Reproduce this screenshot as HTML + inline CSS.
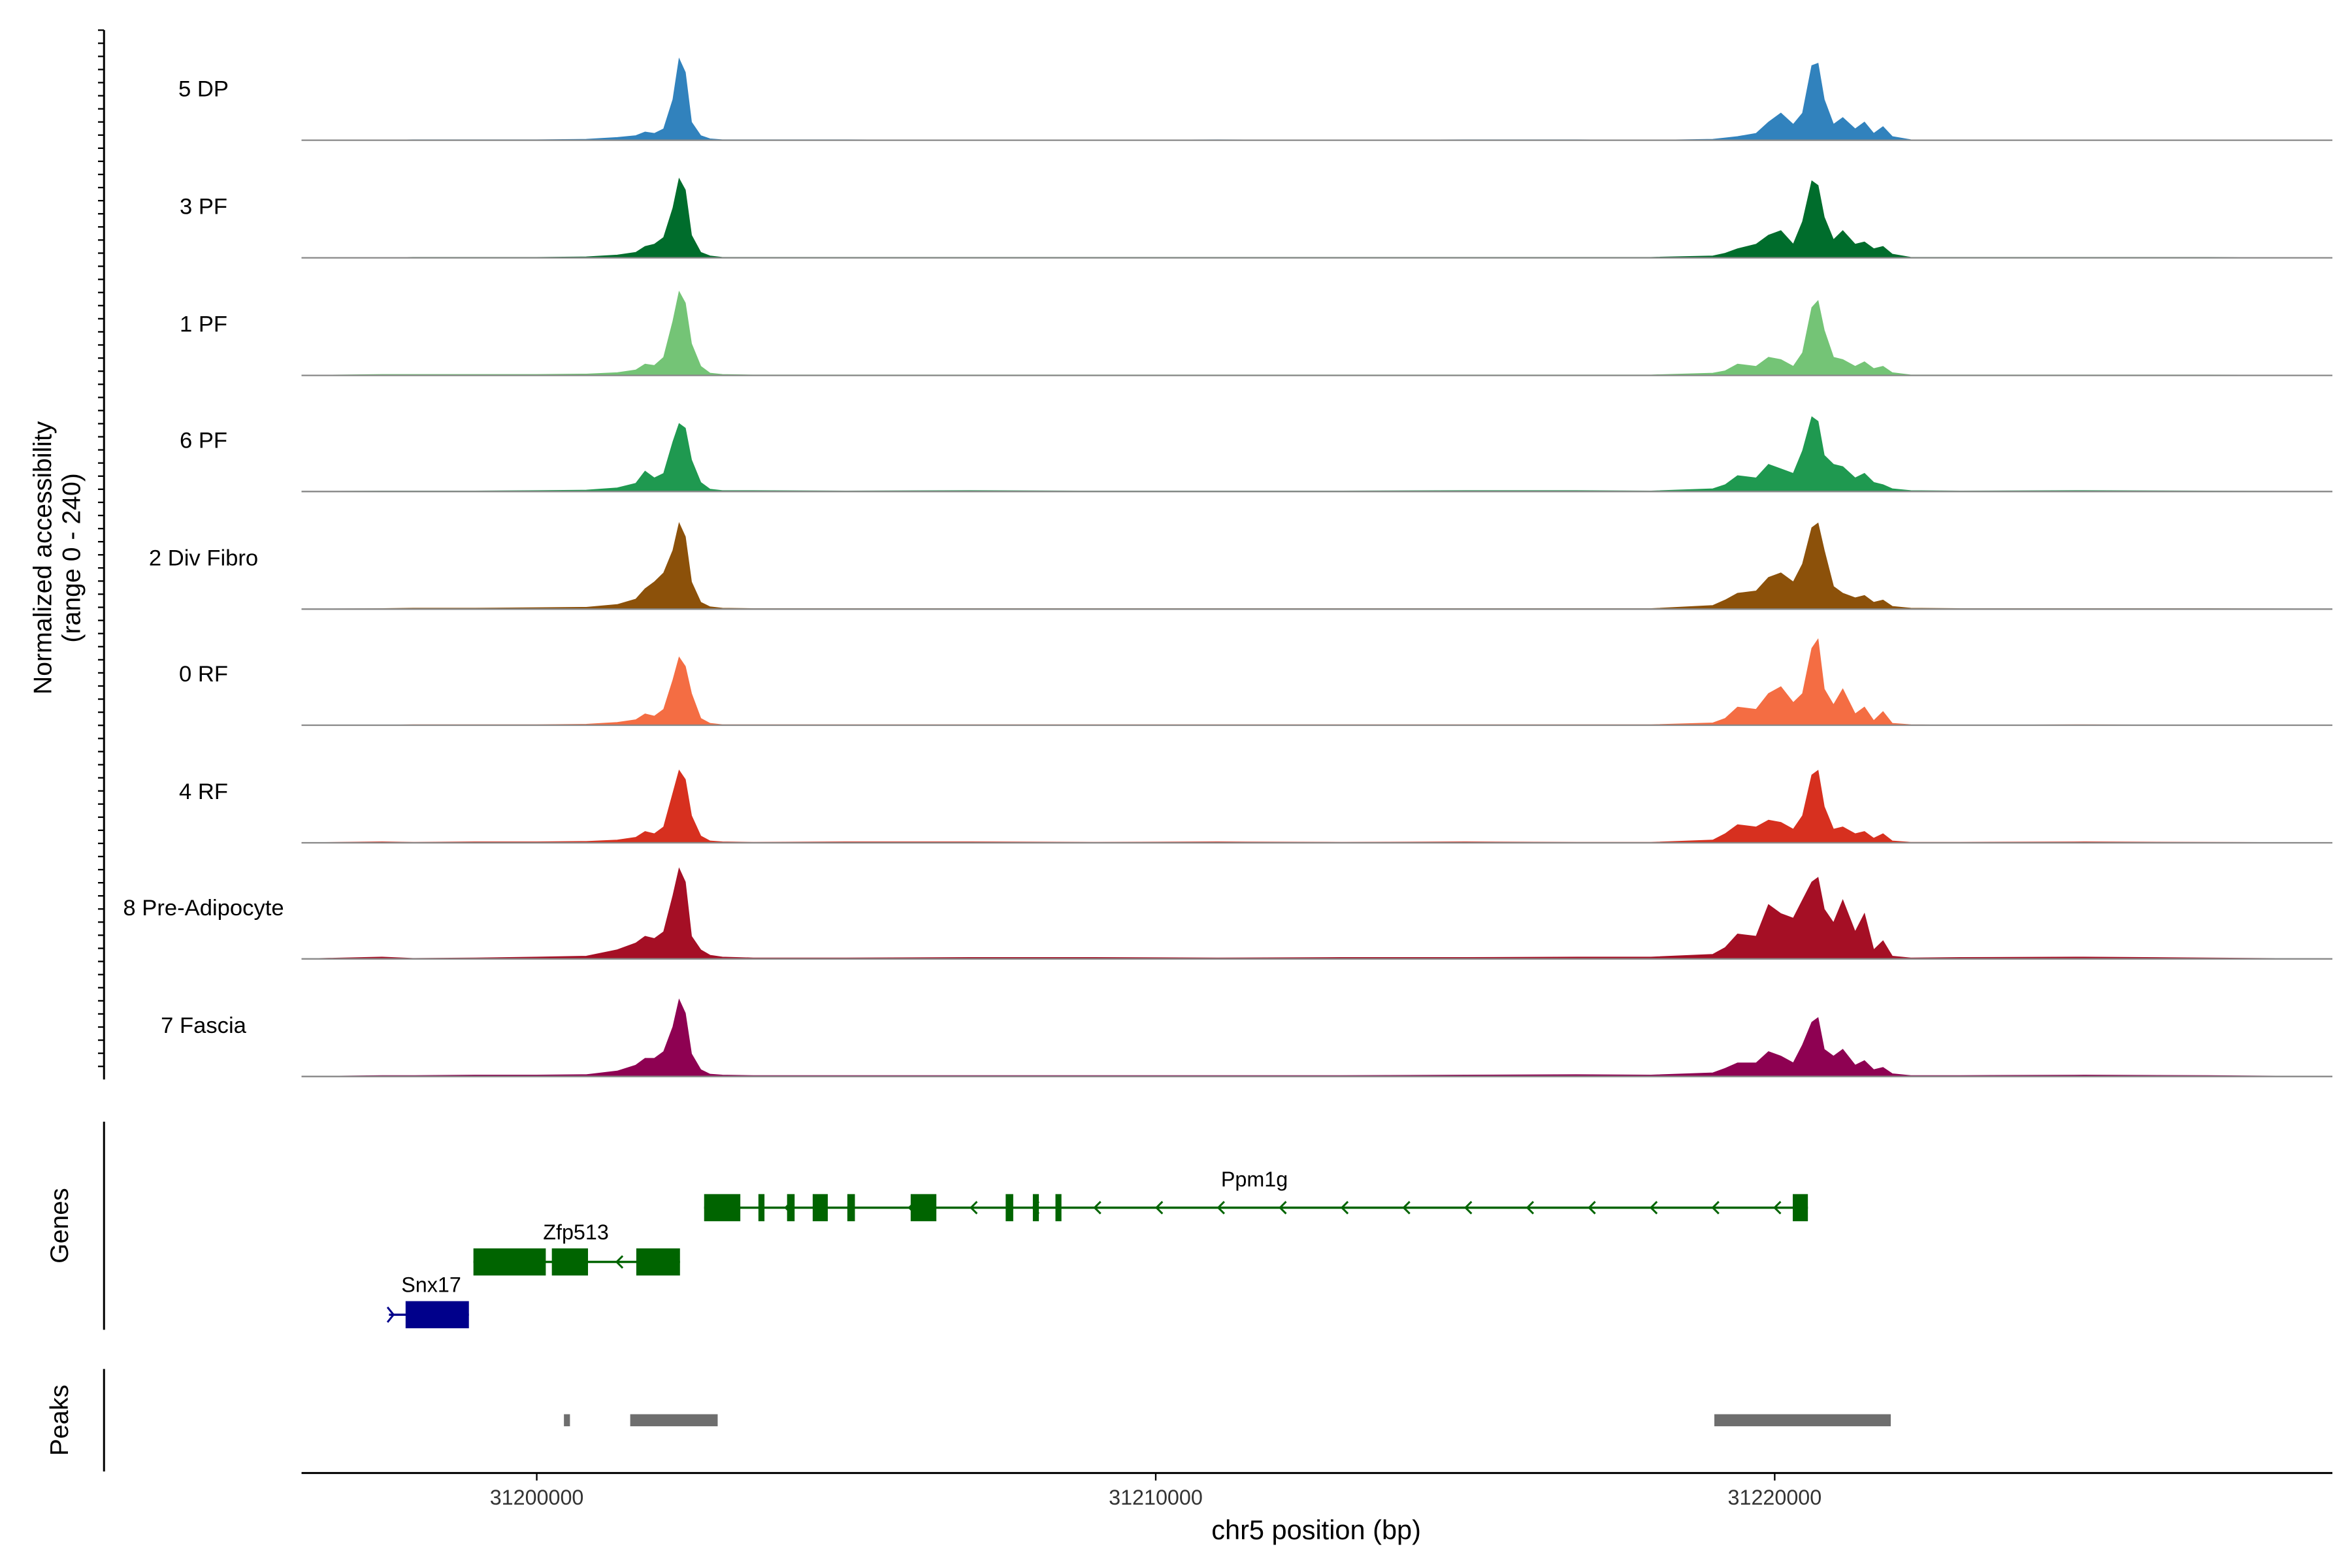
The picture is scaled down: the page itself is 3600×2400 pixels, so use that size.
<!DOCTYPE html>
<html><head><meta charset="utf-8"><style>
html,body{margin:0;padding:0;background:#fff;}
svg{display:block;font-family:"Liberation Sans",Arial,sans-serif;}
</style></head><body>
<svg id="chart" width="3600" height="2400" viewBox="0 0 1560 1040" xmlns="http://www.w3.org/2000/svg"></svg>
<script>
// ---- data ----
const positions = [31196200,31197500,31198000,31199000,31200000,31200800,31201300,31201600,31201750,31201900,31202050,31202200,31202300,31202400,31202500,31202650,31202800,31203000,31203500,31205000,31207000,31209000,31211000,31213000,31215000,31216800,31218000,31219000,31219200,31219400,31219700,31219900,31220100,31220300,31220450,31220600,31220700,31220800,31220950,31221100,31221300,31221450,31221600,31221750,31221900,31222200,31223000,31225000,31227000,31229000];
const trackNames = ["5 DP","3 PF","1 PF","6 PF","2 Div Fibro","0 RF","4 RF","8 Pre-Adipocyte","7 Fascia"];
const trackColors = ["#3182bd","#006d2c","#74c476","#1f9950","#8c510a","#f46d43","#d7301f","#a50f25","#8e0152"];
const dp5   = [0,0,1,1,1,2,6,10,18,15,25,90,180,150,40,10,3,1,1,1,0,0,1,0,1,1,0,2,5,8,15,40,60,35,60,165,170,90,35,50,25,40,15,30,8,1,0,0,0,0];
const pf3   = [0,0,1,1,1,2,6,12,25,30,45,110,175,150,50,12,4,1,1,1,1,1,1,1,1,1,1,4,10,20,30,50,60,30,80,170,160,90,40,60,30,35,20,25,8,1,1,1,1,0];
const pf1   = [0,2,2,2,2,3,6,12,25,22,40,120,185,160,70,20,5,2,1,1,1,1,1,1,1,1,1,5,10,25,20,40,35,20,50,150,165,100,40,35,20,30,15,20,6,1,1,1,1,0];
const pf6   = [0,1,1,1,2,3,8,18,45,30,40,110,150,140,70,20,5,2,2,1,2,1,1,1,2,2,1,6,15,35,30,60,50,40,90,165,155,80,60,55,30,40,20,15,6,2,1,2,1,0];
const fib2  = [0,1,2,2,3,4,10,22,45,60,80,130,190,160,60,15,5,2,1,1,1,1,1,1,1,1,1,8,20,35,40,70,80,60,100,180,190,130,50,35,25,30,15,20,6,2,1,1,1,0];
const rf0   = [0,0,1,1,1,2,6,12,25,20,35,100,150,130,70,15,4,1,1,1,1,1,1,1,1,1,1,5,15,40,35,70,85,50,70,170,190,80,45,80,25,40,10,30,4,1,0,1,0,0];
const rf4   = [0,2,1,2,2,3,6,12,25,20,35,110,160,140,60,15,4,2,1,2,2,1,2,1,2,1,1,6,20,40,35,50,45,30,60,150,160,80,30,35,20,25,10,20,4,1,1,2,1,0];
const pa8   = [0,4,1,2,4,6,20,35,50,45,60,140,200,170,50,20,8,4,2,2,3,3,2,3,3,4,4,10,25,55,50,120,100,90,130,170,180,110,80,130,60,100,20,40,6,2,3,4,2,0];
const fa7   = [0,2,2,3,3,4,12,25,40,40,55,110,170,140,50,15,5,3,2,2,2,2,2,2,3,4,3,8,18,30,30,55,45,30,70,120,130,60,45,60,25,35,15,20,6,2,2,3,2,0];
const trackValues = [dp5,pf3,pf1,pf6,fib2,rf0,rf4,pa8,fa7];
const xTicks = [31200000,31210000,31220000];
const ppm1gExons = [[31202704,31203289],[31203581,31203679],[31204044,31204166],[31204458,31204702],[31205018,31205140],[31206041,31206456],[31207576,31207698],[31208015,31208112],[31208380,31208477],[31220292,31220536]];
const zfp513Exons = [[31198977,31200146],[31200244,31200828],[31201608,31202314]];
const snx17Exons = [[31197881,31198904]];
const peakRanges = [[31200439,31200536],[31201510,31202923],[31219025,31221875]];

// ---- scales ----
const X0=200, X1=1547, D0=31196200, D1=31229010;
const xs = v => X0 + (v-D0)/(D1-D0)*(X1-X0);
const baselines = [93,171,249,326,404,481,559,636,714];
const ys = v => v*0.3;

const svg = document.getElementById('chart');
const NS = 'http://www.w3.org/2000/svg';
function mk(tag, attrs, parent){
  const e=document.createElementNS(NS,tag);
  for(const k in attrs) e.setAttribute(k,attrs[k]);
  (parent||svg).appendChild(e); return e;
}

// left axes
const la = mk('g',{});


mk('line',{x1:69,y1:20,x2:69,y2:716,stroke:'#000','stroke-width':1.3},la);
for(let y=20;y<=716;y+=8.7){
  mk('line',{x1:65,y1:y,x2:69,y2:y,stroke:'#000','stroke-width':1},la);
}
mk('line',{x1:69,y1:744,x2:69,y2:882,stroke:'#000','stroke-width':1.3});
mk('line',{x1:69,y1:908,x2:69,y2:976,stroke:'#000','stroke-width':1.3});
const yt = mk('text',{transform:'translate(36,370) rotate(-90)','text-anchor':'middle','font-size':17});


const t1=mk('tspan',{x:0,dy:-2},yt); t1.textContent='Normalized accessibility';
const t2=mk('tspan',{x:0,dy:19},yt); t2.textContent='(range 0 - 240)';
const gt=mk('text',{transform:'translate(45,813) rotate(-90)','text-anchor':'middle','font-size':17});


gt.textContent='Genes';
const pt=mk('text',{transform:'translate(45,942) rotate(-90)','text-anchor':'middle','font-size':17});


pt.textContent='Peaks';

// tracks
trackValues.forEach((vals,i)=>{
  const g=mk('g',{});
  
  
  const b=baselines[i];
  let d='M'+xs(positions[0])+','+b;
  positions.forEach((p,j)=>{ d+=' L'+xs(p).toFixed(2)+','+(b-ys(vals[j])).toFixed(2); });
  d+=' L'+xs(positions[positions.length-1])+','+b+' Z';
  const a=mk('path',{d:d,fill:trackColors[i],stroke:trackColors[i],'stroke-width':0.5},g);
  
  
  mk('line',{x1:X0,y1:b,x2:X1,y2:b,stroke:'#888','stroke-width':1},g);
  const l=mk('text',{x:135,y:b-29,'text-anchor':'middle','font-size':15},g);
  
  
  l.textContent=trackNames[i];
});

// genes
function gene(name,exons,y,color,labelX,labelY){
  const g=mk('g',{});
  
  
  const s=exons[0][0], e=exons[exons.length-1][1];
  mk('line',{x1:xs(s),y1:y,x2:xs(e),y2:y,stroke:color,'stroke-width':1.5},g);
  for(let x=xs(s)+14;x<xs(e)-14;x+=41){
    mk('polyline',{points:`${x+3},${y-4} ${x-1},${y} ${x+3},${y+4}`,fill:'none',stroke:color,'stroke-width':1.3},g);
  }
  exons.forEach(ex=>{
    const r=mk('rect',{x:xs(ex[0]),y:y-9,width:Math.max(2,xs(ex[1])-xs(ex[0])),height:18,fill:color},g);
    
    
  });
  const t=mk('text',{x:labelX,y:labelY,'text-anchor':'middle','font-size':14},g);
  t.textContent=name;
}
gene('Ppm1g',ppm1gExons,801,'#006400',832,787);
gene('Zfp513',zfp513Exons,837,'#006400',382,822);
(function(){
  const g=mk('g',{});
  
  
  mk('line',{x1:258,y1:872,x2:311,y2:872,stroke:'#00008b','stroke-width':1.5},g);
  mk('polyline',{points:'257,867 261,872 257,877',fill:'none',stroke:'#00008b','stroke-width':1.3},g);
  snx17Exons.forEach(ex=>{
    mk('rect',{x:xs(ex[0]),y:863,width:xs(ex[1])-xs(ex[0]),height:18,fill:'#00008b'},g);
  });
  const t=mk('text',{x:286,y:857,'text-anchor':'middle','font-size':14},g);
  t.textContent='Snx17';
})();

// peaks
peakRanges.forEach(p=>{
  const r=mk('rect',{x:xs(p[0]),y:938,width:Math.max(4,xs(p[1])-xs(p[0])),height:8,fill:'#6e6e6e'});
  
  
});

// x axis
const xa=mk('g',{});


mk('line',{x1:X0,y1:977,x2:X1,y2:977,stroke:'#000','stroke-width':1.3},xa);
xTicks.forEach(v=>{
  mk('line',{x1:xs(v),y1:977,x2:xs(v),y2:982,stroke:'#000','stroke-width':1},xa);
  const t=mk('text',{x:xs(v),y:998,'text-anchor':'middle','font-size':14,fill:'#333'},xa);
  
  
  t.textContent=v;
});
const xt=mk('text',{x:873,y:1021,'text-anchor':'middle','font-size':18});


xt.textContent='chr5 position (bp)';
</script>
</body></html>
